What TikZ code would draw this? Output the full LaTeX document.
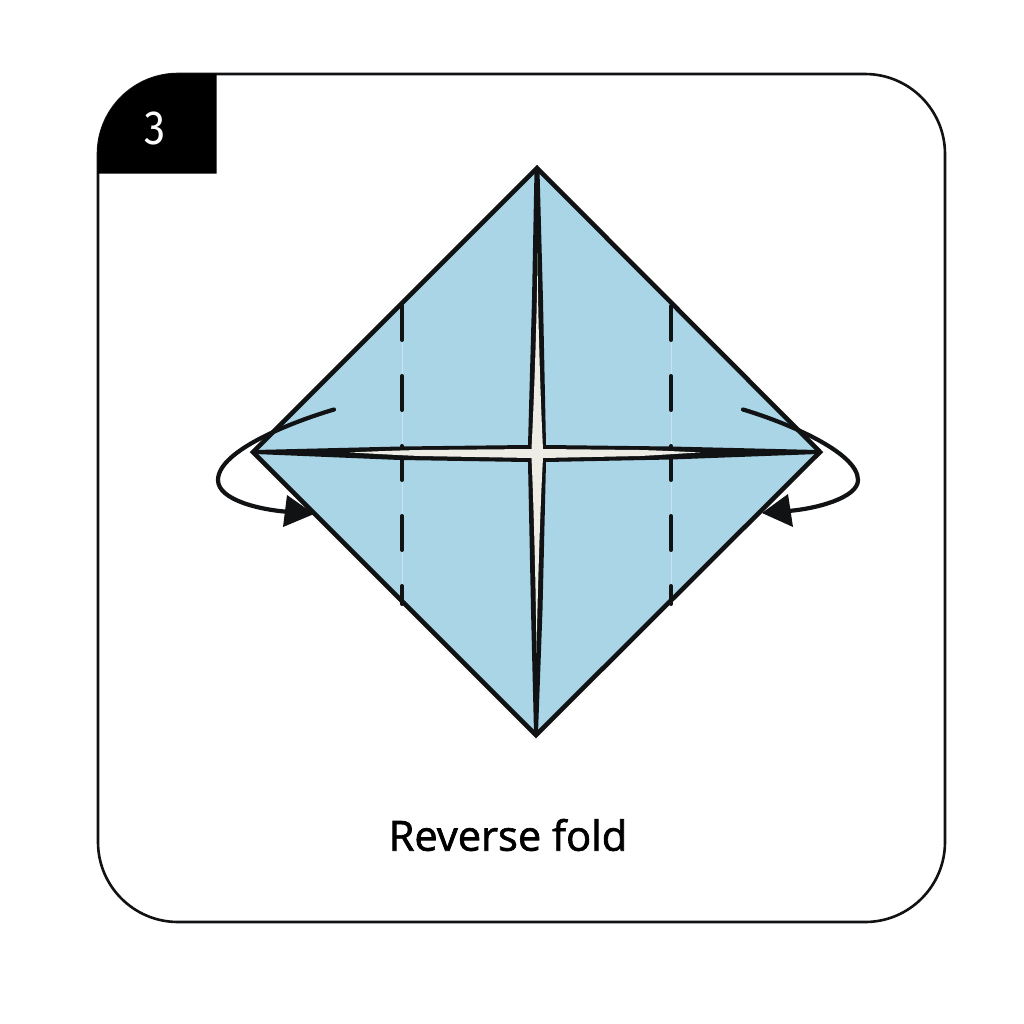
\documentclass[tikz,border=0pt]{standalone}
\usepackage{fontspec}
\setmainfont{Open Sans}[RawFeature={embolden=1.6}]
\newfontfamily\numfont{Fira Sans}
\definecolor{paper}{HTML}{A9D5E7}
\definecolor{seam}{HTML}{C6E4F1}
\definecolor{crease}{HTML}{EDEDE6}
\definecolor{ink}{HTML}{101214}
\tikzset{
  card/.style={draw=ink,line width=1.3pt,fill=white},
  edge/.style={draw=ink,line width=2.3pt,line join=miter},
  dashfold/.style={draw=ink,line width=2pt,line cap=round,dash pattern=on 17pt off 18pt},
  seamline/.style={draw=seam,line width=0.5pt},
  swirl/.style={draw=ink,line width=2.1pt,line cap=round},
  head/.style={fill=ink,draw=none},
}
\begin{document}
\begin{tikzpicture}[x=0.5pt,y=-0.5pt]
\useasboundingbox (0,0) rectangle (1024,1024);
\fill[white] (0,0) rectangle (1024,1024);
% card
\path[card,rounded corners=40pt] (98,74) rectangle (945,922);
% tab
\fill[black] (97.5,173.5) -- (97.5,154) .. controls (97.5,110) and (134,73.5) .. (178,73.5) -- (216.5,73.5) -- (216.5,173.5) -- cycle;
\node[text=white,font=\numfont\fontsize{24}{24}\selectfont] (num) at (155.5,128.5) {\scalebox{0.88}[1]{3}};
% paper
\coordinate (T) at (537,168);
\coordinate (R) at (820,452);
\coordinate (B) at (536,735);
\coordinate (L) at (253,452);
\fill[paper] (T) -- (R) -- (B) -- (L) -- cycle;
% fold lines
\draw[seamline] (402,304) -- (402,602);
\draw[seamline] (671,304) -- (671,602);
\draw[dashfold] (402,306) -- (402,604);
\draw[dashfold] (671,306) -- (671,604);
% star crease, dark
\fill[ink] (534.5,170) -- (532,300) -- (528,445)
  -- (400,446.5) -- (255,450) -- (255,454) -- (400,460)
  -- (528,462) -- (531,610) -- (534,733) -- (538,733) -- (542.5,610)
  -- (546,462) -- (671,459.5) -- (818,454) -- (818,450) -- (671,446.5)
  -- (546,445) -- (543,300) -- (539.5,170) -- cycle;
% star crease, pale
\fill[crease] (537.5,253) .. controls (537,320) and (534,400) .. (531.5,449)
  -- (420,450) .. controls (395,450.5) and (370,451.5) .. (350,452.5)
  .. controls (370,453.5) and (395,455) .. (420,456)
  -- (531.5,458) .. controls (534,510) and (536,600) .. (536.5,653)
  .. controls (537.5,600) and (540,510) .. (543,458)
  -- (640,456) .. controls (660,455) and (680,453.5) .. (700,452.5)
  .. controls (680,451.5) and (660,450.5) .. (640,450)
  -- (543,449) .. controls (540.5,400) and (538,320) .. (537.5,253) -- cycle;
% outline
\draw[edge] (T) -- (R) -- (B) -- (L) -- cycle;
% left arrow
\draw[swirl] (334,409.5) .. controls (295,421) and (218,450) .. (218,480)
  .. controls (218,500) and (260,510) .. (290,512);
\fill[head] (287,495) -- (314,514) -- (283,527) -- cycle;
% right arrow
\draw[swirl] (743,409.5) .. controls (785,422) and (858,452) .. (858,480)
  .. controls (858,498) and (815,509) .. (788,511);
\fill[head] (788,494) -- (762,513) -- (793,527) -- cycle;
% caption
\node[text=black,font=\fontsize{20.8}{21}\selectfont] (cap) at (508,835) {Reverse fold};
\end{tikzpicture}
\end{document}
